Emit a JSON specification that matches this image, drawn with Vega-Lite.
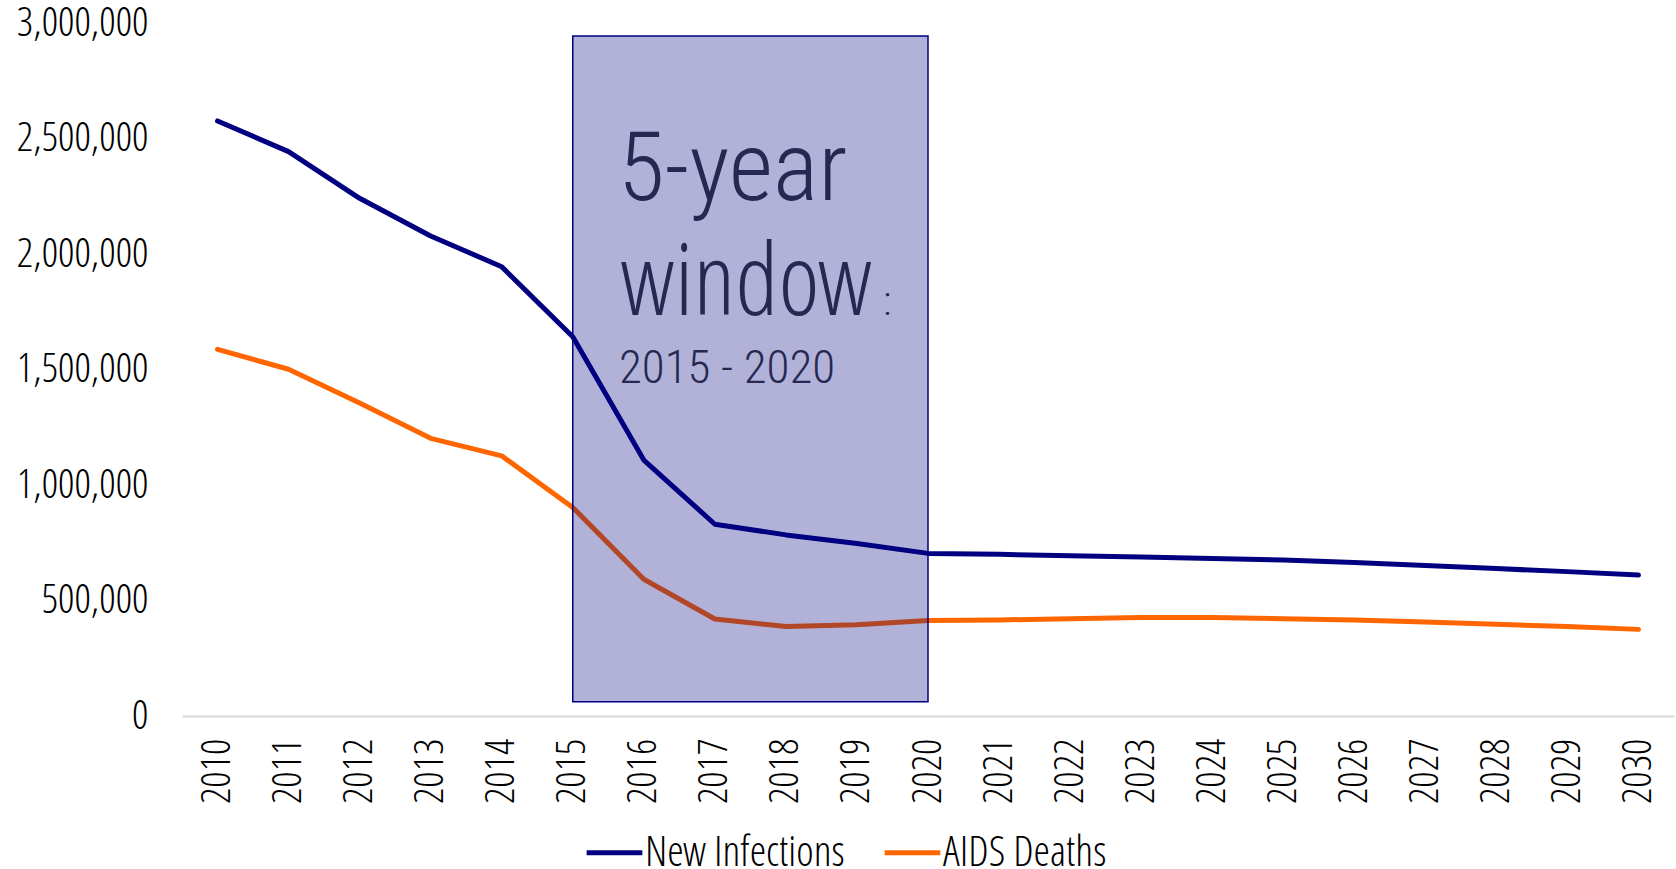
{
  "$schema": "https://vega.github.io/schema/vega-lite/v6.json",
  "width": 1492,
  "height": 693,
  "autosize": {"type": "none"},
  "padding": {"left": 182, "top": 23, "right": 2, "bottom": 153},
  "background": "#ffffff",
  "config": {
    "view": {"stroke": null},
    "font": "Open Sans Condensed Light, Roboto Condensed Light, sans-serif"
  },
  "datasets": {
    "series": [
      {"year": 2010, "series": "New Infections", "value": 2576000},
      {"year": 2011, "series": "New Infections", "value": 2443000},
      {"year": 2012, "series": "New Infections", "value": 2241000},
      {"year": 2013, "series": "New Infections", "value": 2078000},
      {"year": 2014, "series": "New Infections", "value": 1945000},
      {"year": 2015, "series": "New Infections", "value": 1642000},
      {"year": 2016, "series": "New Infections", "value": 1108000},
      {"year": 2017, "series": "New Infections", "value": 830000},
      {"year": 2018, "series": "New Infections", "value": 784000},
      {"year": 2019, "series": "New Infections", "value": 747000},
      {"year": 2020, "series": "New Infections", "value": 704000},
      {"year": 2021, "series": "New Infections", "value": 700000},
      {"year": 2022, "series": "New Infections", "value": 694000},
      {"year": 2023, "series": "New Infections", "value": 688000},
      {"year": 2024, "series": "New Infections", "value": 682000},
      {"year": 2025, "series": "New Infections", "value": 675000},
      {"year": 2026, "series": "New Infections", "value": 664000},
      {"year": 2027, "series": "New Infections", "value": 651000},
      {"year": 2028, "series": "New Infections", "value": 638000},
      {"year": 2029, "series": "New Infections", "value": 625000},
      {"year": 2030, "series": "New Infections", "value": 610000},
      {"year": 2010, "series": "AIDS Deaths", "value": 1587000},
      {"year": 2011, "series": "AIDS Deaths", "value": 1501000},
      {"year": 2012, "series": "AIDS Deaths", "value": 1355000},
      {"year": 2013, "series": "AIDS Deaths", "value": 1202000},
      {"year": 2014, "series": "AIDS Deaths", "value": 1126000},
      {"year": 2015, "series": "AIDS Deaths", "value": 903000},
      {"year": 2016, "series": "AIDS Deaths", "value": 592000},
      {"year": 2017, "series": "AIDS Deaths", "value": 420000},
      {"year": 2018, "series": "AIDS Deaths", "value": 387000},
      {"year": 2019, "series": "AIDS Deaths", "value": 395000},
      {"year": 2020, "series": "AIDS Deaths", "value": 413000},
      {"year": 2021, "series": "AIDS Deaths", "value": 416000},
      {"year": 2022, "series": "AIDS Deaths", "value": 421000},
      {"year": 2023, "series": "AIDS Deaths", "value": 426000},
      {"year": 2024, "series": "AIDS Deaths", "value": 426000},
      {"year": 2025, "series": "AIDS Deaths", "value": 421000},
      {"year": 2026, "series": "AIDS Deaths", "value": 416000},
      {"year": 2027, "series": "AIDS Deaths", "value": 407000},
      {"year": 2028, "series": "AIDS Deaths", "value": 397000},
      {"year": 2029, "series": "AIDS Deaths", "value": 387000},
      {"year": 2030, "series": "AIDS Deaths", "value": 375000}
    ],
    "window": [
      {"from": 2015, "to": 2020}
    ]
  },
  "layer": [
    {
      "data": {"name": "series"},
      "mark": {"type": "line", "strokeWidth": 5, "strokeCap": "round", "strokeJoin": "round"},
      "encoding": {
        "x": {
          "field": "year",
          "type": "quantitative",
          "scale": {"domain": [2009.5, 2030.5], "nice": false, "zero": false},
          "axis": {
            "title": null,
            "values": [2010, 2011, 2012, 2013, 2014, 2015, 2016, 2017, 2018, 2019, 2020, 2021, 2022, 2023, 2024, 2025, 2026, 2027, 2028, 2029, 2030],
            "format": "d",
            "labelAngle": -90,
            "labelFont": "Open Sans Condensed Light",
            "labelFontSize": 41,
            "labelColor": "#000000",
            "labelPadding": 22,
            "ticks": false,
            "grid": false,
            "domainColor": "#d9d9d9",
            "domainWidth": 2,
            "labelFlush": false,
            "labelOverlap": false
          }
        },
        "y": {
          "field": "value",
          "type": "quantitative",
          "scale": {"domain": [0, 3000000], "nice": false},
          "axis": {
            "title": null,
            "values": [0, 500000, 1000000, 1500000, 2000000, 2500000, 3000000],
            "format": ",d",
            "labelFont": "Open Sans Condensed Light",
            "labelFontSize": 41,
            "labelColor": "#000000",
            "labelPadding": 34,
            "ticks": false,
            "grid": false,
            "domain": false,
            "labelFlush": false,
            "labelOverlap": false
          }
        },
        "color": {
          "field": "series",
          "type": "nominal",
          "scale": {"domain": ["New Infections", "AIDS Deaths"], "range": ["#000080", "#ff6600"]},
          "legend": {
            "title": null,
            "orient": "none",
            "direction": "horizontal",
            "legendX": 402,
            "legendY": 799,
            "symbolType": "stroke",
            "symbolSize": 3100,
            "symbolStrokeWidth": 5,
            "labelFont": "Open Sans Condensed Light",
            "labelFontSize": 42,
            "labelLimit": 500,
            "labelColor": "#000000",
            "labelOffset": 0,
            "columnPadding": 29
          }
        }
      }
    },
    {
      "data": {"name": "window"},
      "mark": {"type": "rect", "fill": "#000080", "fillOpacity": 0.3, "stroke": "#000080", "strokeWidth": 1.5},
      "encoding": {
        "x": {"field": "from", "type": "quantitative"},
        "x2": {"field": "to"},
        "y": {"datum": 2944000},
        "y2": {"datum": 62000}
      }
    },
    {
      "data": {"name": "window"},
      "mark": {"type": "text", "align": "left", "baseline": "alphabetic", "font": "Roboto Condensed Light", "fontSize": 96, "color": "#252850"},
      "encoding": {
        "x": {"datum": 2015.635},
        "y": {"datum": 2234000},
        "text": {"value": "5-year"}
      }
    },
    {
      "data": {"name": "window"},
      "mark": {"type": "text", "align": "left", "baseline": "alphabetic", "font": "Open Sans Condensed Light", "fontSize": 99, "color": "#252850"},
      "encoding": {
        "x": {"datum": 2015.67},
        "y": {"datum": 1736000},
        "text": {"value": "window"}
      }
    },
    {
      "data": {"name": "window"},
      "mark": {"type": "text", "align": "left", "baseline": "alphabetic", "font": "Roboto Condensed Light", "fontSize": 40, "color": "#252850"},
      "encoding": {
        "x": {"datum": 2019.37},
        "y": {"datum": 1736000},
        "text": {"value": ":"}
      }
    },
    {
      "data": {"name": "window"},
      "mark": {"type": "text", "align": "left", "baseline": "alphabetic", "font": "Roboto Condensed Light", "fontSize": 47, "color": "#252850"},
      "encoding": {
        "x": {"datum": 2015.65},
        "y": {"datum": 1442000},
        "text": {"value": "2015 - 2020"}
      }
    }
  ]
}
